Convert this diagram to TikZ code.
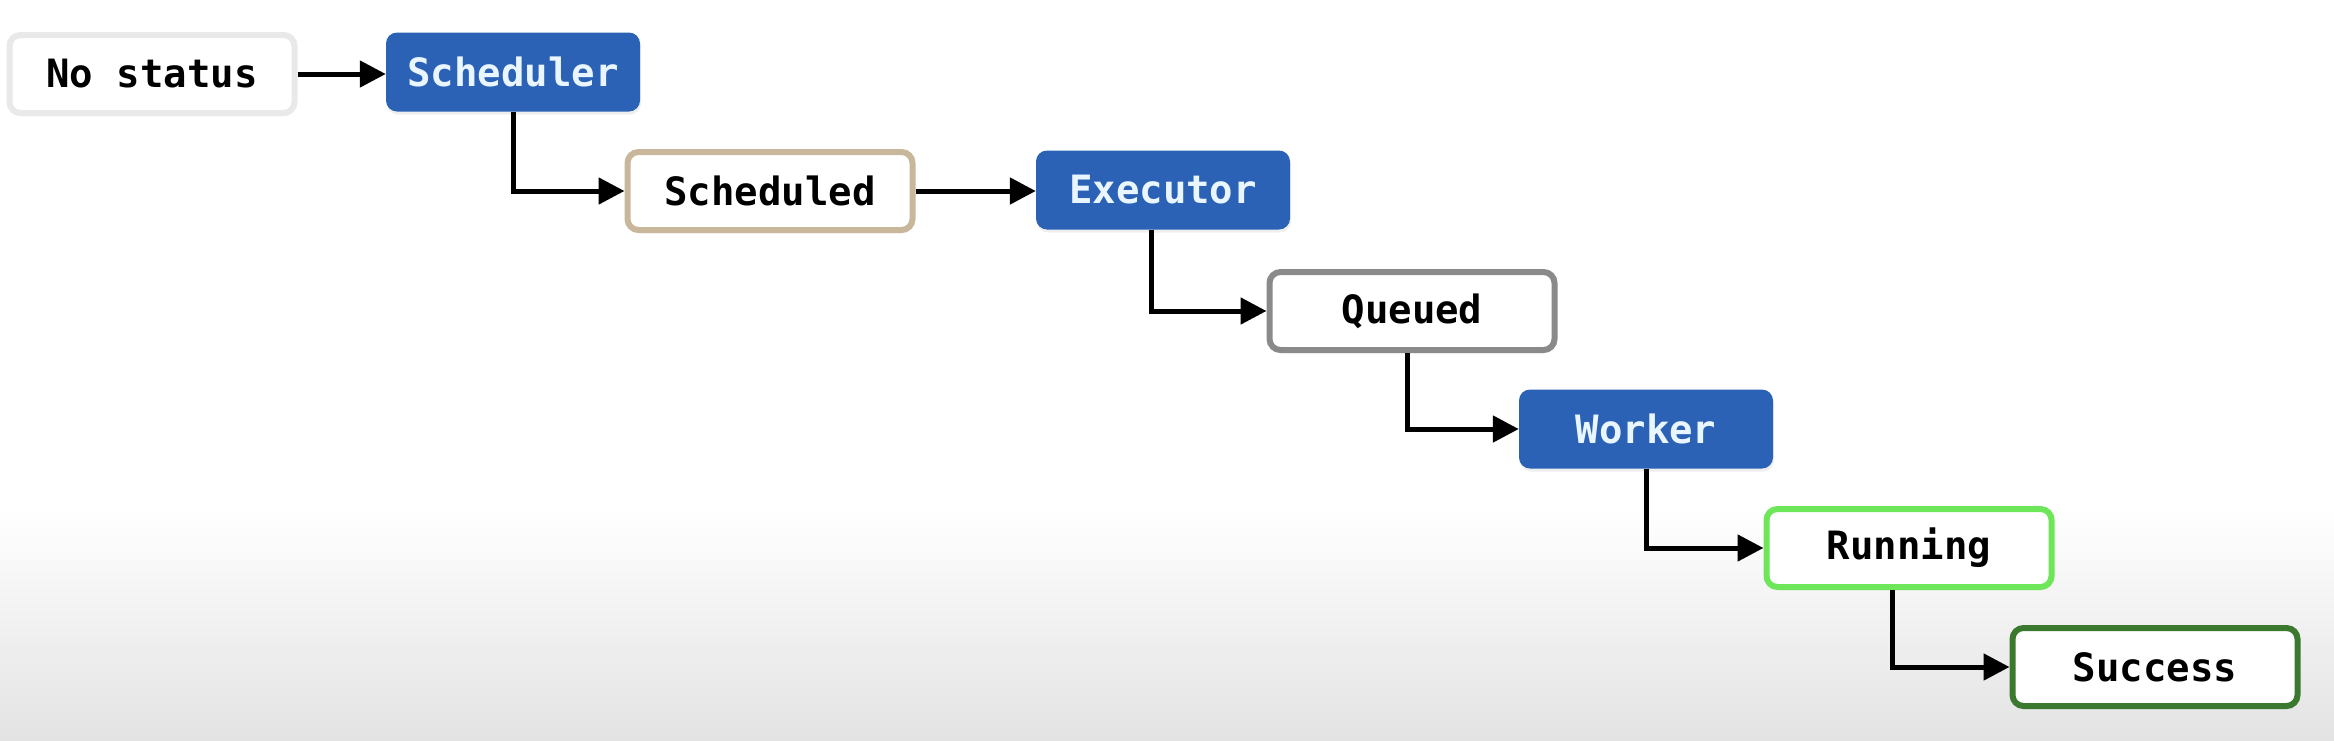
\documentclass[tikz,border=0pt]{standalone}
\usepackage{fontspec}
\setmonofont{DejaVu Sans Mono}
\usetikzlibrary{arrows.meta,shadows}
\definecolor{bluebox}{HTML}{2B62B6}
\definecolor{textwhite}{HTML}{EAF6FF}
\definecolor{bggray}{HTML}{E3E3E3}
\definecolor{nsborder}{HTML}{E9E9E9}
\definecolor{tan}{HTML}{C9B79B}
\definecolor{qgray}{HTML}{8A8A8A}
\definecolor{lgreen}{HTML}{6EE65A}
\definecolor{dgreen}{HTML}{3B7A2E}
\begin{document}
\begin{tikzpicture}[x=1pt,y=-1pt,
  base/.style={rounded corners=11pt, font=\ttfamily\bfseries\fontsize{39}{44}\selectfont, inner sep=0pt, align=center},
  state/.style={base, draw=#1, line width=6pt, fill=white, minimum width=285pt, minimum height=78pt,
    drop shadow={opacity=0.15, shadow xshift=1pt, shadow yshift=-3pt}},
  actor/.style={base, fill=bluebox, text=textwhite, minimum width=254pt, minimum height=79pt,
    drop shadow={opacity=0.12, shadow xshift=1pt, shadow yshift=-3pt}},
  conn/.style={line width=5pt, -{Triangle[length=26pt,width=26pt]}}]
\useasboundingbox (0,0) rectangle (2334,740);
\fill[white] (0,0) rectangle (2334,510);
\shade[top color=white, bottom color=bggray] (0,508) rectangle (2334,740);

\node[state=nsborder] (nostatus) at (152,74) {No status};
\node[actor] (scheduler) at (513,72) {Scheduler};
\node[state=tan] (scheduled) at (770,191) {Scheduled};
\node[actor] (executor) at (1163,190) {Executor};
\node[state=qgray] (queued) at (1412,311) {Queued};
\node[actor] (worker) at (1646,429) {Worker};
\node[state=lgreen] (running) at (1909,548) {Running};
\node[state=dgreen] (success) at (2155,667) {Success};

\draw[conn] (nostatus.east) -- (nostatus.east -| scheduler.west);
\draw[conn] (scheduler.south) |- (scheduled.west);
\draw[conn] (scheduled.east) -- (scheduled.east -| executor.west);
\draw[conn] ([xshift=-12pt]executor.south) |- (queued.west);
\draw[conn] ([xshift=-5pt]queued.south) |- (worker.west);
\draw[conn] (worker.south) |- (running.west);
\draw[conn] ([xshift=-17pt]running.south) |- (success.west);
\end{tikzpicture}
\end{document}
